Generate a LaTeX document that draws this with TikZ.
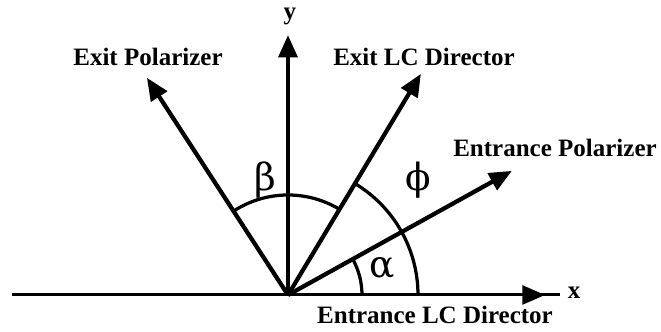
\documentclass[tikz,border=0pt]{standalone}
\usepackage{fontspec}
\setmainfont{Liberation Serif}
\newfontfamily\greekfont{DejaVu Serif}
\usetikzlibrary{arrows.meta,positioning}

\begin{document}
\begin{tikzpicture}[x=0.4pt,y=0.4pt,>={Triangle[length=9pt,width=7.5pt]},
    vec/.style={->,line width=1.7pt},
    axisline/.style={line width=1.2pt},
    angarc/.style={line width=1.3pt},
    lbl/.style={font=\bfseries,inner sep=0pt},
    grk/.style={font=\greekfont\fontsize{15}{18}\selectfont,inner sep=0pt}]
  \useasboundingbox (-288,-37) rectangle (373,295);
  % origin and vector tips
  \coordinate (O) at (0,0);
  \coordinate (xl) at (-276,0);
  \coordinate (xr) at (272,0);
  \coordinate (xtip) at (257,0);
  \coordinate (ytip) at (90:260);
  \coordinate (entpol) at (29:256);
  \coordinate (exitlc) at (59:258);
  \coordinate (exitpol) at (123:259);
  % axes
  \draw[axisline] (xl) -- (xr);
  \draw[->,axisline] (O) -- (xtip);
  \draw[vec] (O) -- (ytip);
  \node[lbl] (xlab) at (286,2) {x};
  \node[lbl] (ylab) at (2,279) {y};
  % directors and polarizers
  \draw[vec] (O) -- (entpol);
  \draw[vec] (O) -- (exitlc);
  \draw[vec] (O) -- (exitpol);
  \node[lbl] (entpollab) at (267,147) {Entrance Polarizer};
  \node[lbl] (exitlclab) at (136,238) {Exit LC Director};
  \node[lbl] (exitpollab) at (-140,238) {Exit Polarizer};
  \node[lbl] (entlclab) at (147,-20) {Entrance LC Director};
  % angles
  \draw[angarc] (74,0) arc[start angle=0,end angle=29,radius=74];
  \draw[angarc] (130,0) arc[start angle=0,end angle=59,radius=130];
  \draw[angarc] (59:100) arc[start angle=59,end angle=123,radius=100];
  \node[grk] (alpha) at (94,27) {α};
  \node[grk] (phi) at (130,115) {ϕ};
  \node[grk] (beta) at (-23,115) {β};
\end{tikzpicture}
\end{document}
